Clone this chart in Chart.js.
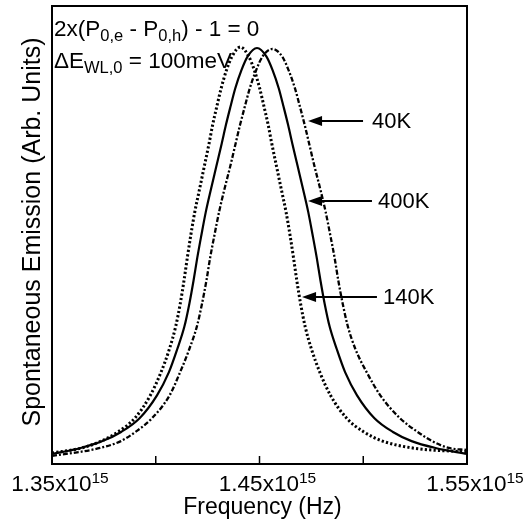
<!DOCTYPE html>
<html>
<head>
<meta charset="utf-8">
<style>
  html, body { margin: 0; padding: 0; background: #fff; }
  #wrap { width: 530px; height: 522px; }
</style>
<script src="https://cdn.jsdelivr.net/npm/chart.js@4.4.1/dist/chart.umd.min.js"></script>
</head>
<body>
<div id="wrap"><canvas id="emissionChart" width="530" height="522"></canvas></div>
<script>
// frequency in units of 1e15 Hz, emission in arbitrary units (0 = frame bottom, 1 = frame top)
const freq40K = [1.3500, 1.3732, 1.3832, 1.3902, 1.3982, 1.4067, 1.4117, 1.4161, 1.4198, 1.4223, 1.4244,
                 1.4262, 1.4283, 1.4305, 1.4331, 1.4359, 1.4385, 1.4406, 1.4429, 1.4453, 1.4484, 1.4515,
                 1.4562,
                 1.4609, 1.4640, 1.4671, 1.4695, 1.4718, 1.4739, 1.4765, 1.4793, 1.4819, 1.4841, 1.4862,
                 1.4880, 1.4901, 1.4926, 1.4963, 1.5017, 1.5082, 1.5177, 1.5262, 1.5332, 1.5412, 1.5500];
const emis40K = [0.0175, 0.035, 0.05, 0.07, 0.10, 0.15, 0.20, 0.25, 0.30, 0.35, 0.40,
                 0.45, 0.50, 0.55, 0.60, 0.65, 0.70, 0.74, 0.78, 0.82, 0.86, 0.89,
                 0.9061,
                 0.89, 0.86, 0.82, 0.78, 0.74, 0.70, 0.65, 0.60, 0.55, 0.50, 0.45,
                 0.40, 0.35, 0.30, 0.25, 0.20, 0.15, 0.10, 0.07, 0.05, 0.035, 0.0306];

const freq400K = [1.3500, 1.3638, 1.3743, 1.3833, 1.3922, 1.4006, 1.4063, 1.4103, 1.4138, 1.4162, 1.4182,
                  1.4200, 1.4220, 1.4241, 1.4266, 1.4292, 1.4318, 1.4338, 1.4360, 1.4383, 1.4413, 1.4443,
                  1.4488,
                  1.4533, 1.4563, 1.4593, 1.4616, 1.4638, 1.4658, 1.4684, 1.4710, 1.4735, 1.4756, 1.4776,
                  1.4794, 1.4814, 1.4838, 1.4873, 1.4913, 1.4970, 1.5054, 1.5143, 1.5233, 1.5348, 1.5500];
const emis400K = [0.0218, 0.035, 0.05, 0.07, 0.10, 0.15, 0.20, 0.25, 0.30, 0.35, 0.40,
                  0.45, 0.50, 0.55, 0.60, 0.65, 0.70, 0.74, 0.78, 0.82, 0.86, 0.89,
                  0.9083,
                  0.89, 0.86, 0.82, 0.78, 0.74, 0.70, 0.65, 0.60, 0.55, 0.50, 0.45,
                  0.40, 0.35, 0.30, 0.25, 0.20, 0.15, 0.10, 0.07, 0.05, 0.035, 0.0218];

const freq140K = [1.3500, 1.3643, 1.3737, 1.3818, 1.3899, 1.3974, 1.4025, 1.4065, 1.4096, 1.4118, 1.4136,
                  1.4152, 1.4169, 1.4188, 1.4211, 1.4234, 1.4257, 1.4274, 1.4294, 1.4315, 1.4341, 1.4368,
                  1.4408,
                  1.4448, 1.4475, 1.4501, 1.4522, 1.4542, 1.4559, 1.4582, 1.4605, 1.4628, 1.4647, 1.4664,
                  1.4680, 1.4698, 1.4720, 1.4751, 1.4791, 1.4842, 1.4920, 1.5003, 1.5093, 1.5238, 1.5500];
const emis140K = [0.0240, 0.035, 0.05, 0.07, 0.10, 0.15, 0.20, 0.25, 0.30, 0.35, 0.40,
                  0.45, 0.50, 0.55, 0.60, 0.65, 0.70, 0.74, 0.78, 0.82, 0.86, 0.89,
                  0.9105,
                  0.89, 0.86, 0.82, 0.78, 0.74, 0.70, 0.65, 0.60, 0.55, 0.50, 0.45,
                  0.40, 0.35, 0.30, 0.25, 0.20, 0.15, 0.10, 0.07, 0.05, 0.035, 0.0262];

const xTickLabels = [1.35, 1.45, 1.55];
const xTickMarks = [1.40, 1.45, 1.50];

// arrow labels: tip and tail in data units
const arrowLabels = ['40K', '400K', '140K'];
const arrowTipF = [1.4734, 1.4734, 1.4705];
const arrowTailF = [1.4999, 1.5042, 1.5066];
const arrowTextF = [1.5042, 1.5071, 1.5095];
const arrowY = [0.7489, 0.5742, 0.3646];

const FONT = '"Liberation Sans", Arial, Helvetica, sans-serif';

function toPoints(xs, ys) {
  return xs.map((x, i) => ({ x: x, y: ys[i] }));
}

// draws runs of [text, isSub, isSup] pieces
function drawRuns(ctx, runs, x, y, size, subSize) {
  runs.forEach(r => {
    const sz = r[1] || r[2] ? subSize : size;
    ctx.font = sz + 'px ' + FONT;
    const dy = r[1] ? 5 : (r[2] ? -8 : 0);
    ctx.fillText(r[0], x, y + dy);
    x += ctx.measureText(r[0]).width;
  });
  return x;
}

function runsWidth(ctx, runs, size, subSize) {
  let w = 0;
  runs.forEach(r => {
    ctx.font = (r[1] || r[2] ? subSize : size) + 'px ' + FONT;
    w += ctx.measureText(r[0]).width;
  });
  return w;
}

const decorations = {
  id: 'decorations',
  afterDraw(chart) {
    const ctx = chart.ctx;
    const a = chart.chartArea;
    const xs = chart.scales.x;
    const ys = chart.scales.y;
    ctx.save();
    ctx.fillStyle = '#000';
    ctx.strokeStyle = '#000';

    // frame
    ctx.lineWidth = 2;
    ctx.strokeRect(a.left, a.top, a.right - a.left, a.bottom - a.top);

    // inward tick marks on the bottom axis
    ctx.lineWidth = 1.5;
    xTickMarks.forEach(v => {
      const px = xs.getPixelForValue(v);
      ctx.beginPath();
      ctx.moveTo(px, a.bottom);
      ctx.lineTo(px, a.bottom - 8);
      ctx.stroke();
    });

    // tick labels
    ctx.textAlign = 'left';
    ctx.textBaseline = 'alphabetic';
    xTickLabels.forEach(v => {
      const runs = [[v.toFixed(2) + 'x10', false, false], ['15', false, true]];
      const w = runsWidth(ctx, runs, 22.5, 15.5);
      const px = xs.getPixelForValue(v);
      drawRuns(ctx, runs, px + 8 - w / 2, a.bottom + 27, 22.5, 15.5);
    });

    // axis titles
    ctx.font = '23px ' + FONT;
    ctx.textAlign = 'center';
    ctx.fillText('Frequency (Hz)', (a.left + a.right) / 2 + 3, a.bottom + 50);

    ctx.save();
    ctx.translate(a.left - 12, (a.top + a.bottom) / 2 - 3);
    ctx.rotate(-Math.PI / 2);
    ctx.font = '25px ' + FONT;
    ctx.fillText('Spontaneous Emission (Arb. Units)', 0, 0);
    ctx.restore();

    // condition text in the top-left corner
    ctx.textAlign = 'left';
    drawRuns(ctx, [['2x(P'], ['0,e', true], [' - P'], ['0,h', true], [') - 1 = 0']],
      a.left + 2, a.top + 30, 22.5, 16.5);
    drawRuns(ctx, [['\u0394E'], ['WL,0', true], [' = 100meV']],
      a.left + 2, a.top + 62, 22.5, 16.5);

    // arrows with temperature labels
    ctx.lineWidth = 2;
    arrowLabels.forEach((label, i) => {
      const tip = xs.getPixelForValue(arrowTipF[i]);
      const tail = xs.getPixelForValue(arrowTailF[i]);
      const py = ys.getPixelForValue(arrowY[i]);
      ctx.beginPath();
      ctx.moveTo(tail, py);
      ctx.lineTo(tip + 10, py);
      ctx.stroke();
      ctx.beginPath();
      ctx.moveTo(tip, py);
      ctx.lineTo(tip + 14, py - 5);
      ctx.lineTo(tip + 14, py + 5);
      ctx.closePath();
      ctx.fill();
      ctx.font = '22px ' + FONT;
      ctx.textBaseline = 'middle';
      ctx.fillText(label, xs.getPixelForValue(arrowTextF[i]), py + 1);
      ctx.textBaseline = 'alphabetic';
    });

    ctx.restore();
  }
};

const ctx = document.getElementById('emissionChart').getContext('2d');
new Chart(ctx, {
  type: 'line',
  data: {
    datasets: [
      {
        label: '40K',
        data: toPoints(freq40K, emis40K),
        borderColor: '#000',
        borderWidth: 2.3,
        borderDash: [5, 2, 2, 2],
        cubicInterpolationMode: 'monotone'
      },
      {
        label: '400K',
        data: toPoints(freq400K, emis400K),
        borderColor: '#000',
        borderWidth: 2.2,
        cubicInterpolationMode: 'monotone'
      },
      {
        label: '140K',
        data: toPoints(freq140K, emis140K),
        borderColor: '#000',
        borderWidth: 3,
        borderDash: [2.2, 2.2],
        cubicInterpolationMode: 'monotone'
      }
    ]
  },
  options: {
    responsive: false,
    animation: false,
    layout: { padding: { left: 52, top: 6, right: 63, bottom: 58 } },
    elements: { point: { radius: 0 } },
    plugins: {
      legend: { display: false },
      tooltip: { enabled: false }
    },
    scales: {
      x: { type: 'linear', min: 1.35, max: 1.55, display: false },
      y: { type: 'linear', min: 0, max: 1, display: false }
    }
  },
  plugins: [decorations]
});
</script>
</body>
</html>
